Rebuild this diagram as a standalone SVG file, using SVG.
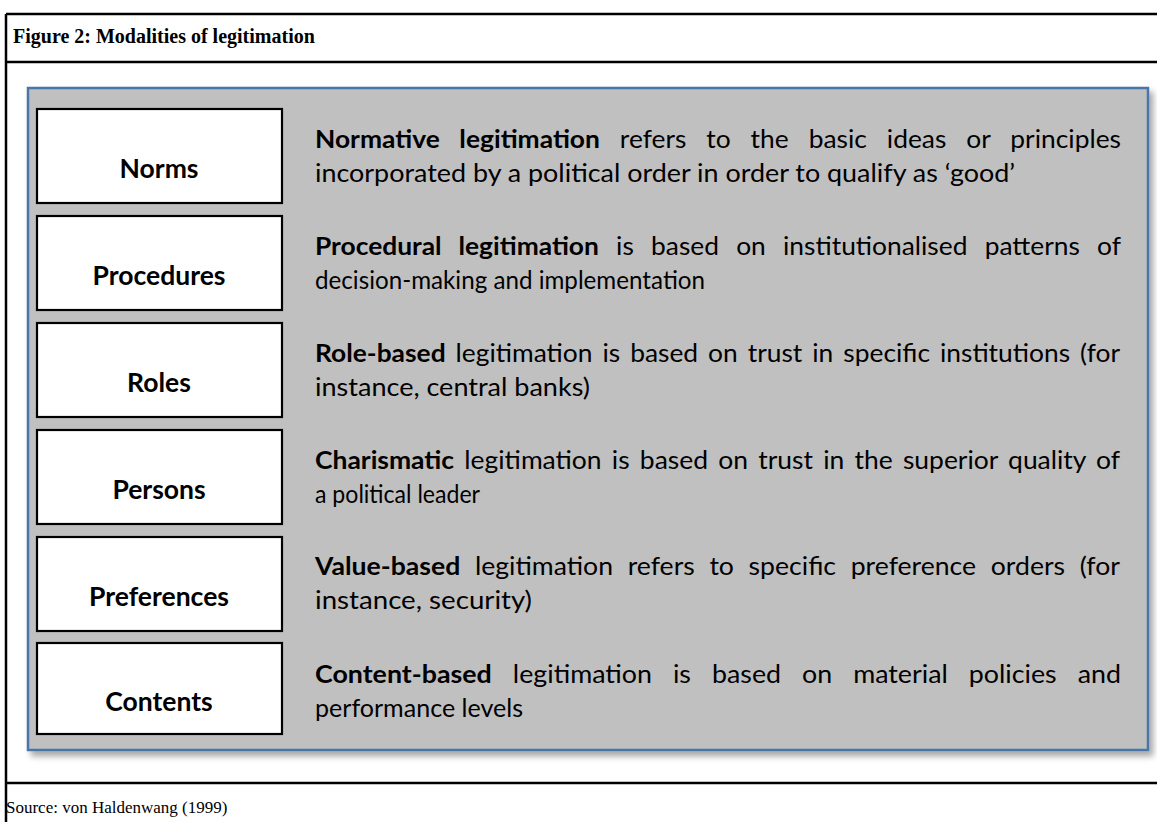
<svg xmlns="http://www.w3.org/2000/svg" width="1157" height="822" viewBox="0 0 1157 822">
<style>
.frame{stroke:#000;stroke-width:2.5;fill:none}
.title{font-family:"Liberation Serif","Times New Roman",serif;font-weight:bold;font-size:20px;fill:#000}
.src{font-family:"Liberation Serif","Times New Roman",serif;font-size:17px;fill:#000}
.box{fill:#fff;stroke:#000;stroke-width:2.2}
.lbl{font-family:Lato,"Open Sans",sans-serif;font-weight:bold;font-size:26.5px;fill:#000;text-anchor:middle}
.txt{font-family:Lato,"Open Sans",sans-serif;font-size:24.4px;fill:#000}
.b{font-weight:bold}
</style>
<defs>
<filter id="sh" x="-5%" y="-5%" width="110%" height="115%">
<feDropShadow dx="4" dy="5" stdDeviation="3" flood-color="#000" flood-opacity="0.35"/>
</filter>
</defs>
<rect width="1157" height="822" fill="#fff"/>
<g id="frame">
<line class="frame" x1="6" y1="14" x2="1157" y2="14"/>
<line class="frame" x1="6" y1="14" x2="6" y2="822"/>
<line class="frame" x1="6" y1="62" x2="1157" y2="62"/>
<line class="frame" x1="6" y1="783" x2="1157" y2="783"/>
<text class="title" x="13" y="43">Figure 2:  Modalities of legitimation</text>
<text class="src" x="6" y="813">Source: von Haldenwang (1999)</text>
</g>
<g id="panel">
<rect x="28" y="88" width="1120" height="662" fill="#c0c0c0" stroke="#4a76a8" stroke-width="2.5" filter="url(#sh)"/>
</g>
<g id="connectors"></g>
<g id="norms">
<rect class="box" x="37" y="109" width="245" height="94"/>
<text class="lbl" x="159" y="178">Norms</text>
<text class="txt" x="315" y="148" style="word-spacing:12.2px" textLength="806" lengthAdjust="spacingAndGlyphs"><tspan class="b">Normative legitimation</tspan> refers to the basic ideas or principles</text>
<text class="txt" x="315" y="182" textLength="700" lengthAdjust="spacingAndGlyphs">incorporated by a political order in order to qualify as ‘good’</text>
</g>
<g id="procedures">
<rect class="box" x="37" y="216" width="245" height="94"/>
<text class="lbl" x="159" y="285">Procedures</text>
<text class="txt" x="315" y="255" style="word-spacing:9.7px" textLength="806" lengthAdjust="spacingAndGlyphs"><tspan class="b">Procedural legitimation</tspan> is based on institutionalised patterns of</text>
<text class="txt" x="315" y="289" textLength="390" lengthAdjust="spacingAndGlyphs">decision-making and implementation</text>
</g>
<g id="roles">
<rect class="box" x="37" y="323" width="245" height="94"/>
<text class="lbl" x="159" y="392">Roles</text>
<text class="txt" x="315" y="362" style="word-spacing:3px" textLength="805" lengthAdjust="spacingAndGlyphs"><tspan class="b">Role-based</tspan> legitimation is based on trust in specific institutions (for</text>
<text class="txt" x="315" y="396" textLength="275" lengthAdjust="spacingAndGlyphs">instance, central banks)</text>
</g>
<g id="persons">
<rect class="box" x="37" y="430" width="245" height="94"/>
<text class="lbl" x="159" y="499">Persons</text>
<text class="txt" x="315" y="469" style="word-spacing:3.2px" textLength="805" lengthAdjust="spacingAndGlyphs"><tspan class="b">Charismatic</tspan> legitimation is based on trust in the superior quality of</text>
<text class="txt" x="315" y="503" textLength="165" lengthAdjust="spacingAndGlyphs">a political leader</text>
</g>
<g id="preferences">
<rect class="box" x="37" y="537" width="245" height="94"/>
<text class="lbl" x="159" y="606">Preferences</text>
<text class="txt" x="315" y="575" style="word-spacing:7.2px" textLength="805" lengthAdjust="spacingAndGlyphs"><tspan class="b">Value-based</tspan> legitimation refers to specific preference orders (for</text>
<text class="txt" x="315" y="609" textLength="217" lengthAdjust="spacingAndGlyphs">instance, security)</text>
</g>
<g id="contents">
<rect class="box" x="37" y="643" width="245" height="91"/>
<text class="lbl" x="159" y="711">Contents</text>
<text class="txt" x="315" y="683" style="word-spacing:12.9px" textLength="806" lengthAdjust="spacingAndGlyphs"><tspan class="b">Content-based</tspan> legitimation is based on material policies and</text>
<text class="txt" x="315" y="717" textLength="208" lengthAdjust="spacingAndGlyphs">performance levels</text>
</g>
</svg>
